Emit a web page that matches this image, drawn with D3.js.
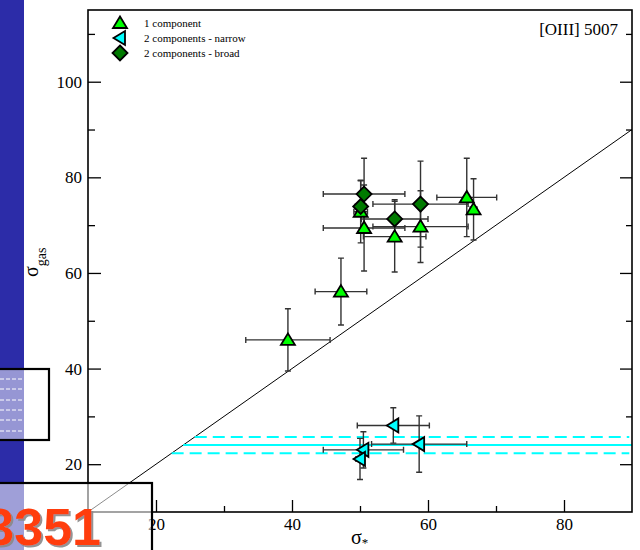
<!DOCTYPE html>
<html>
<head>
<meta charset="utf-8">
<script src="https://cdn.jsdelivr.net/npm/d3@7"></script>
<style>
  body { margin: 0; background: #fff; }
  svg { display: block; }
</style>
</head>
<body>
<div id="chart"></div>
<script>
// rows are [sigma_star, sigma_gas, err sigma_star, err sigma_gas]
const oneComponent = [
  [39.4, 46.0, 6.2, 6.5],
  [47.2, 56.1, 3.8, 7.0],
  [50.6, 69.4, 6.0, 9.0],
  [50.1, 72.8, 1.0, 6.5],
  [55.1, 67.6, 4.6, 7.4],
  [58.9, 69.7, 7.0, 7.5],
  [65.7, 75.8, 4.4, 8.2],
  [66.7, 73.3, 0.5, 6.4]
];
const narrowComponent = [
  [54.9, 28.1, 5.3, 3.7],
  [58.7, 24.2, 7.0, 5.9],
  [50.5, 23.0, 5.9, 3.8],
  [50.0, 21.1, 0.6, 4.3]
];
const broadComponent = [
  [50.6, 76.5, 6.0, 7.5],
  [50.1, 73.9, 0.8, 5.5],
  [55.1, 71.3, 4.9, 4.0],
  [58.9, 74.4, 7.0, 9.0]
];
// mean of the narrow component and its spread
const narrowMean = 24.0;
const narrowBand = [22.3, 25.7];

const xMajor = [20, 40, 60, 80];
const xMinor = [30, 50, 70];
const yMajor = [20, 40, 60, 80, 100];
const yMinor = [30, 50, 70, 90, 110];
const legendLabels = ["1 component", "2 components - narrow", "2 components - broad"];
const title = "[OIII] 5007";

const w = 640;
const h = 550;
const serif = "Liberation Serif, Times New Roman, serif";

const x = d3.scaleLinear().domain([10, 90]).range([88, 632]);
const y = d3.scaleLinear().domain([10, 115]).range([512, 10]);

const svg = d3.select("#chart").append("svg")
              .attr("width", w)
              .attr("height", h)
              .attr("font-family", serif);

svg.append("rect").attr("width", w).attr("height", h).attr("fill", "#fff");

const defs = svg.append("defs");
defs.append("clipPath").attr("id", "plot")
   .append("rect")
   .attr("x", x(10)).attr("y", y(115))
   .attr("width", x(90) - x(10)).attr("height", y(10) - y(115));
defs.append("filter").attr("id", "shadow")
   .attr("x", "-10%").attr("y", "-10%").attr("width", "130%").attr("height", "130%")
   .append("feDropShadow")
   .attr("dx", 2).attr("dy", 2).attr("stdDeviation", 0.6)
   .attr("flood-color", "#888").attr("flood-opacity", 0.9);

const plot = svg.append("g").attr("clip-path", "url(#plot)");

// 1:1 line
plot.append("line")
    .attr("x1", x(10)).attr("y1", y(10))
    .attr("x2", x(90)).attr("y2", y(90))
    .attr("stroke", "#000")
    .attr("stroke-width", 1);

// narrow component mean (solid) and spread (dashed), starting at the 1:1 line
plot.selectAll(".band")
    .data([narrowBand[0], narrowMean, narrowBand[1]])
    .enter()
    .append("line")
    .attr("class", "band")
    .attr("x1", d => x(d)).attr("y1", d => y(d))
    .attr("x2", (d, i) => i == 1 ? x(90) : x(89.6)).attr("y2", d => y(d))
    .attr("stroke", "#00ffff")
    .attr("stroke-width", 2)
    .attr("stroke-dasharray", (d, i) => i == 1 ? null : "12,6");

// error bars
function errorBars(data) {
  const cap = 3;
  plot.append("g")
      .attr("stroke", "#333")
      .attr("stroke-width", 1.4)
      .attr("fill", "none")
      .selectAll("path")
      .data(data)
      .enter()
      .append("path")
      .attr("d", d => {
        const cx = x(d[0]), cy = y(d[1]);
        const x0 = x(d[0] - d[2]), x1 = x(d[0] + d[2]);
        const y0 = y(d[1] - d[3]), y1 = y(d[1] + d[3]);
        return "M" + x0 + "," + cy + "H" + x1 +
               "M" + x0 + "," + (cy - cap) + "V" + (cy + cap) +
               "M" + x1 + "," + (cy - cap) + "V" + (cy + cap) +
               "M" + cx + "," + y0 + "V" + y1 +
               "M" + (cx - cap) + "," + y0 + "H" + (cx + cap) +
               "M" + (cx - cap) + "," + y1 + "H" + (cx + cap);
      });
}
errorBars(oneComponent);
errorBars(narrowComponent);
errorBars(broadComponent);

const triUp = "M0,-6.5L7,5L-7,5Z";
const triLeft = "M-6.5,0L5,-7L5,7Z";
const diamond = "M0,-7.5L7.5,0L0,7.5L-7.5,0Z";

function markers(data, shape, color) {
  plot.append("g")
      .selectAll("path")
      .data(data)
      .enter()
      .append("path")
      .attr("d", shape)
      .attr("transform", d => "translate(" + x(d[0]) + "," + y(d[1]) + ")")
      .attr("fill", color)
      .attr("stroke", "#000")
      .attr("stroke-width", 1.8);
}
markers(oneComponent, triUp, "#00ff00");
markers(narrowComponent, triLeft, "#00ffff");
markers(broadComponent, diamond, "#007a00");

// axes: ticks point inwards, frame drawn separately
function styleAxis(g) {
  g.select(".domain").remove();
  g.attr("font-family", serif).attr("font-size", 17);
  g.selectAll(".tick line").attr("stroke-width", 1.3);
  g.selectAll(".tick text").attr("fill", "#000");
}

svg.append("g")
   .attr("transform", "translate(0," + y(10) + ")")
   .call(d3.axisBottom(x).tickValues(xMajor).tickSizeInner(-12).tickSizeOuter(0).tickPadding(6))
   .call(styleAxis);
svg.append("g")
   .attr("transform", "translate(0," + y(10) + ")")
   .call(d3.axisBottom(x).tickValues(xMinor).tickSizeInner(-6).tickSizeOuter(0).tickFormat(""))
   .call(styleAxis);

svg.append("g")
   .attr("transform", "translate(" + x(10) + ",0)")
   .call(d3.axisLeft(y).tickValues(yMajor).tickSizeInner(-13).tickSizeOuter(0).tickPadding(6))
   .call(styleAxis);
svg.append("g")
   .attr("transform", "translate(" + x(10) + ",0)")
   .call(d3.axisLeft(y).tickValues(yMinor).tickSizeInner(-7).tickSizeOuter(0).tickFormat(""))
   .call(styleAxis);

svg.append("g")
   .attr("transform", "translate(" + x(90) + ",0)")
   .call(d3.axisRight(y).tickValues(yMajor).tickSizeInner(-12).tickSizeOuter(0).tickFormat(""))
   .call(styleAxis);
svg.append("g")
   .attr("transform", "translate(" + x(90) + ",0)")
   .call(d3.axisRight(y).tickValues(yMinor).tickSizeInner(-6).tickSizeOuter(0).tickFormat(""))
   .call(styleAxis);

// frame
svg.append("rect")
   .attr("x", x(10)).attr("y", y(115))
   .attr("width", x(90) - x(10)).attr("height", y(10) - y(115))
   .attr("fill", "none")
   .attr("stroke", "#000")
   .attr("stroke-width", 1.6);

// axis titles
const yTitle = svg.append("text")
   .attr("transform", "translate(38,277) rotate(-90)")
   .attr("font-size", 20);
yTitle.append("tspan").text("σ");
yTitle.append("tspan").attr("font-size", 14).attr("dy", 8).text("gas");

const xTitle = svg.append("text")
   .attr("x", 351).attr("y", 544)
   .attr("font-size", 20);
xTitle.append("tspan").text("σ");
xTitle.append("tspan").attr("font-size", 13).attr("dy", 3).text("*");

svg.append("text")
   .attr("x", 618).attr("y", 35)
   .attr("text-anchor", "end")
   .attr("font-size", 17)
   .text(title);

// legend
const legend = svg.append("g").attr("transform", "translate(120,23)");
const legendShapes = [triUp, triLeft, diamond];
const legendColors = ["#00ff00", "#00ffff", "#007a00"];
legend.selectAll("path")
      .data(legendLabels)
      .enter()
      .append("path")
      .attr("d", (d, i) => legendShapes[i])
      .attr("transform", (d, i) => "translate(0," + i * 15 + ")")
      .attr("fill", (d, i) => legendColors[i])
      .attr("stroke", "#000")
      .attr("stroke-width", 1.8);
legend.selectAll("text")
      .data(legendLabels)
      .enter()
      .append("text")
      .attr("x", 24)
      .attr("y", (d, i) => i * 15 + 3.5)
      .attr("font-size", 11)
      .text(d => d);

// slide overlay around the left edge
svg.append("rect").attr("x", 0).attr("y", 0).attr("width", 24).attr("height", h).attr("fill", "#2c2ca8");
svg.append("rect")
   .attr("x", -3).attr("y", 369).attr("width", 52).attr("height", 71)
   .attr("fill", "#fff").attr("fill-opacity", 0.5)
   .attr("stroke", "#000").attr("stroke-width", 2.2);
svg.append("g")
   .selectAll("line")
   .data([379, 389, 400, 410, 420, 431])
   .enter()
   .append("line")
   .attr("x1", 0).attr("x2", 24)
   .attr("y1", d => d).attr("y2", d => d)
   .attr("stroke", "#fff")
   .attr("stroke-width", 1)
   .attr("stroke-dasharray", "4,2");
svg.append("rect")
   .attr("x", -3).attr("y", 483).attr("width", 155).attr("height", 80)
   .attr("fill", "#fff").attr("fill-opacity", 0.55)
   .attr("stroke", "#000").attr("stroke-width", 2.2);
svg.append("text")
   .attr("x", 101).attr("y", 545)
   .attr("text-anchor", "end")
   .attr("font-family", "Liberation Sans, Arial, sans-serif")
   .attr("font-weight", "bold")
   .attr("font-size", 52)
   .attr("fill", "#ff3d0a")
   .attr("filter", "url(#shadow)")
   .text("3351");
</script>
</body>
</html>
